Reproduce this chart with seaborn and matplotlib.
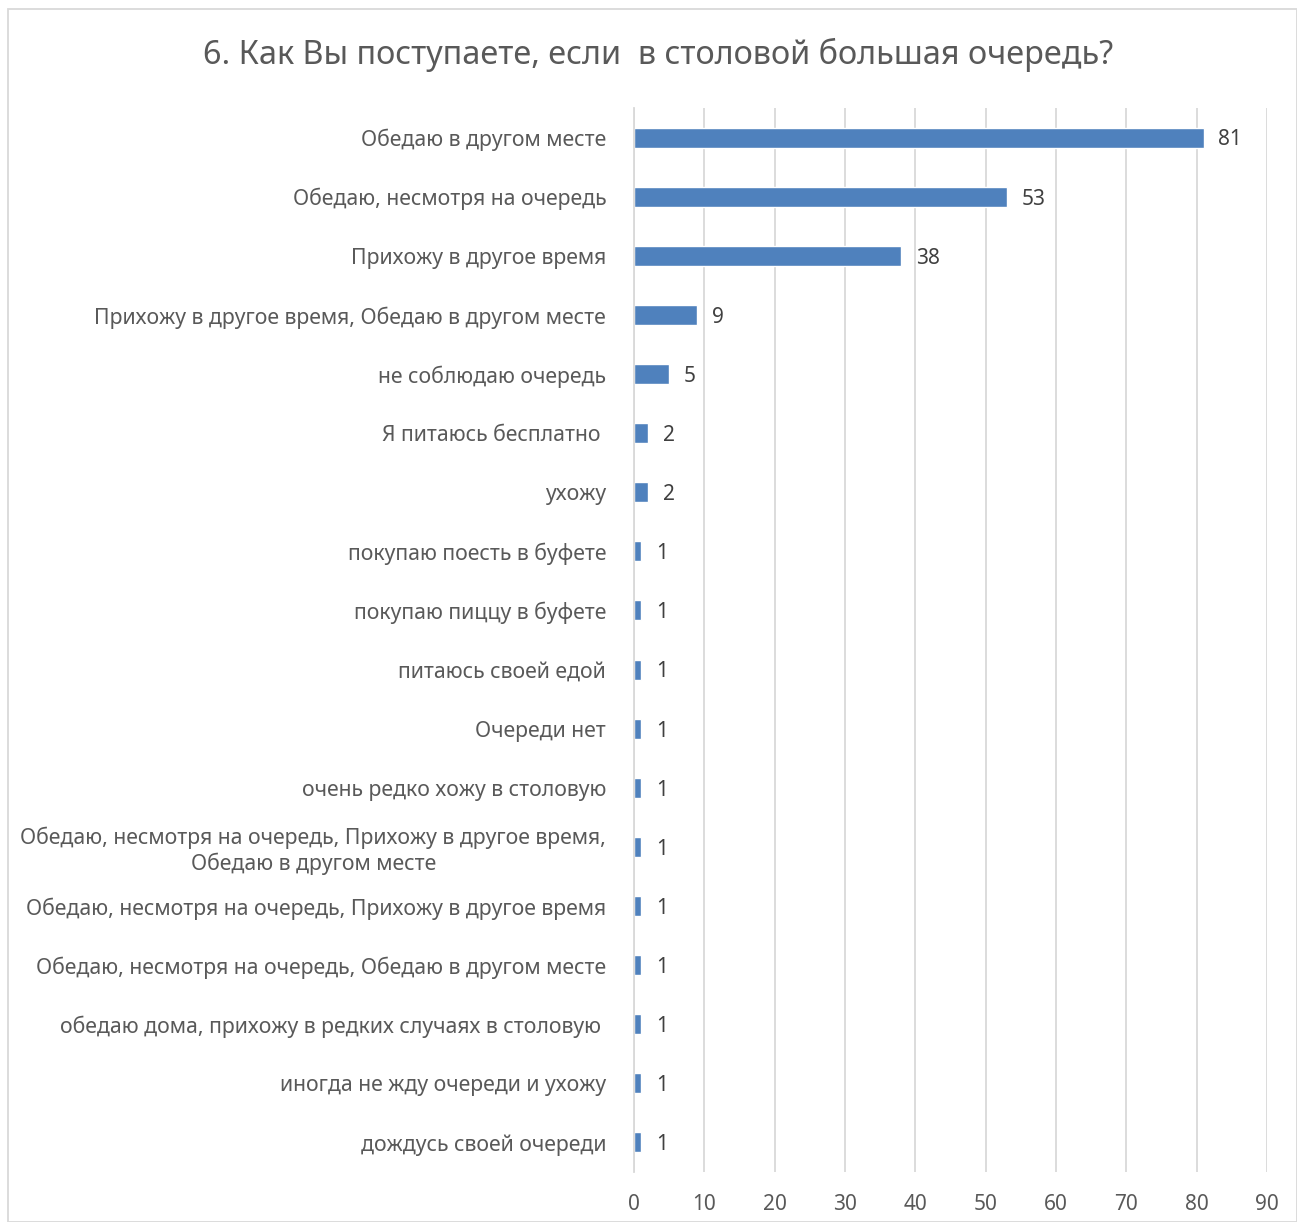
import matplotlib
matplotlib.use("Agg")
import matplotlib.pyplot as plt
import matplotlib.patches as mpatches
import seaborn as sns
import pandas as pd

title = "6. Как Вы поступаете, если  в столовой большая очередь?"
categories = [
    "Обедаю в другом месте",
    "Обедаю, несмотря на очередь",
    "Прихожу в другое время",
    "Прихожу в другое время, Обедаю в другом месте",
    "не соблюдаю очередь",
    "Я питаюсь бесплатно ",
    "ухожу",
    "покупаю поесть в буфете",
    "покупаю пиццу в буфете",
    "питаюсь своей едой",
    "Очереди нет",
    "очень редко хожу в столовую",
    "Обедаю, несмотря на очередь, Прихожу в другое время,\nОбедаю в другом месте",
    "Обедаю, несмотря на очередь, Прихожу в другое время",
    "Обедаю, несмотря на очередь, Обедаю в другом месте",
    "обедаю дома, прихожу в редких случаях в столовую ",
    "иногда не жду очереди и ухожу",
    "дождусь своей очереди",
]
values = [81, 53, 38, 9, 5, 2, 2, 1, 1, 1, 1, 1, 1, 1, 1, 1, 1, 1]
xticks = [0, 10, 20, 30, 40, 50, 60, 70, 80, 90]

sns.set_theme(style="white")
plt.rcParams['font.family'] = ['Noto Sans', 'DejaVu Sans']

df = pd.DataFrame({"cat": categories, "val": values})
text_color = "#595959"
bar_color = "#4f81bd"

fig = plt.figure(figsize=(12.97, 12.22), dpi=100)
ax = fig.add_axes([634/1297, 1 - 1172/1222, (1267-634)/1297, (1172-108)/1222])

sns.barplot(data=df, x="val", y="cat", color=bar_color, width=0.34,
            saturation=1, ax=ax, orient="h")

ax.set_xlim(0, 90)
ax.set_xticks(xticks)
ax.set_xticklabels([str(t) for t in xticks])
ax.xaxis.grid(True, color="#d9d9d9", linewidth=1.3)
ax.set_axisbelow(True)
for s in ["top", "right", "bottom"]:
    ax.spines[s].set_visible(False)
ax.spines["left"].set_color("#d9d9d9")
ax.spines["left"].set_linewidth(1.3)
ax.set_xlabel("")
ax.set_ylabel("")
ax.tick_params(axis="x", labelsize=15, colors=text_color, length=0, pad=16)
ax.tick_params(axis="y", labelsize=15.3, colors=text_color, length=0, pad=20)
for lab in ax.get_yticklabels():
    lab.set_horizontalalignment("right")
    lab.set_multialignment("center")
    lab.set_linespacing(1.2)

for i, v in enumerate(values):
    ax.text(v + 2.1, i + 0.04, str(v), va="center", ha="left", fontsize=15, color="#404040")

fig.text(658/1297, 1 - 55/1222, title, ha="center", va="center", fontsize=23.3, color=text_color)

fig.patches.append(mpatches.Rectangle((8/1297, 0), 1 - 8/1297, 1 - 9/1222, transform=fig.transFigure,
                                      fill=False, edgecolor="#d9d9d9", linewidth=1.3))

fig.savefig("out.png", dpi=100)
